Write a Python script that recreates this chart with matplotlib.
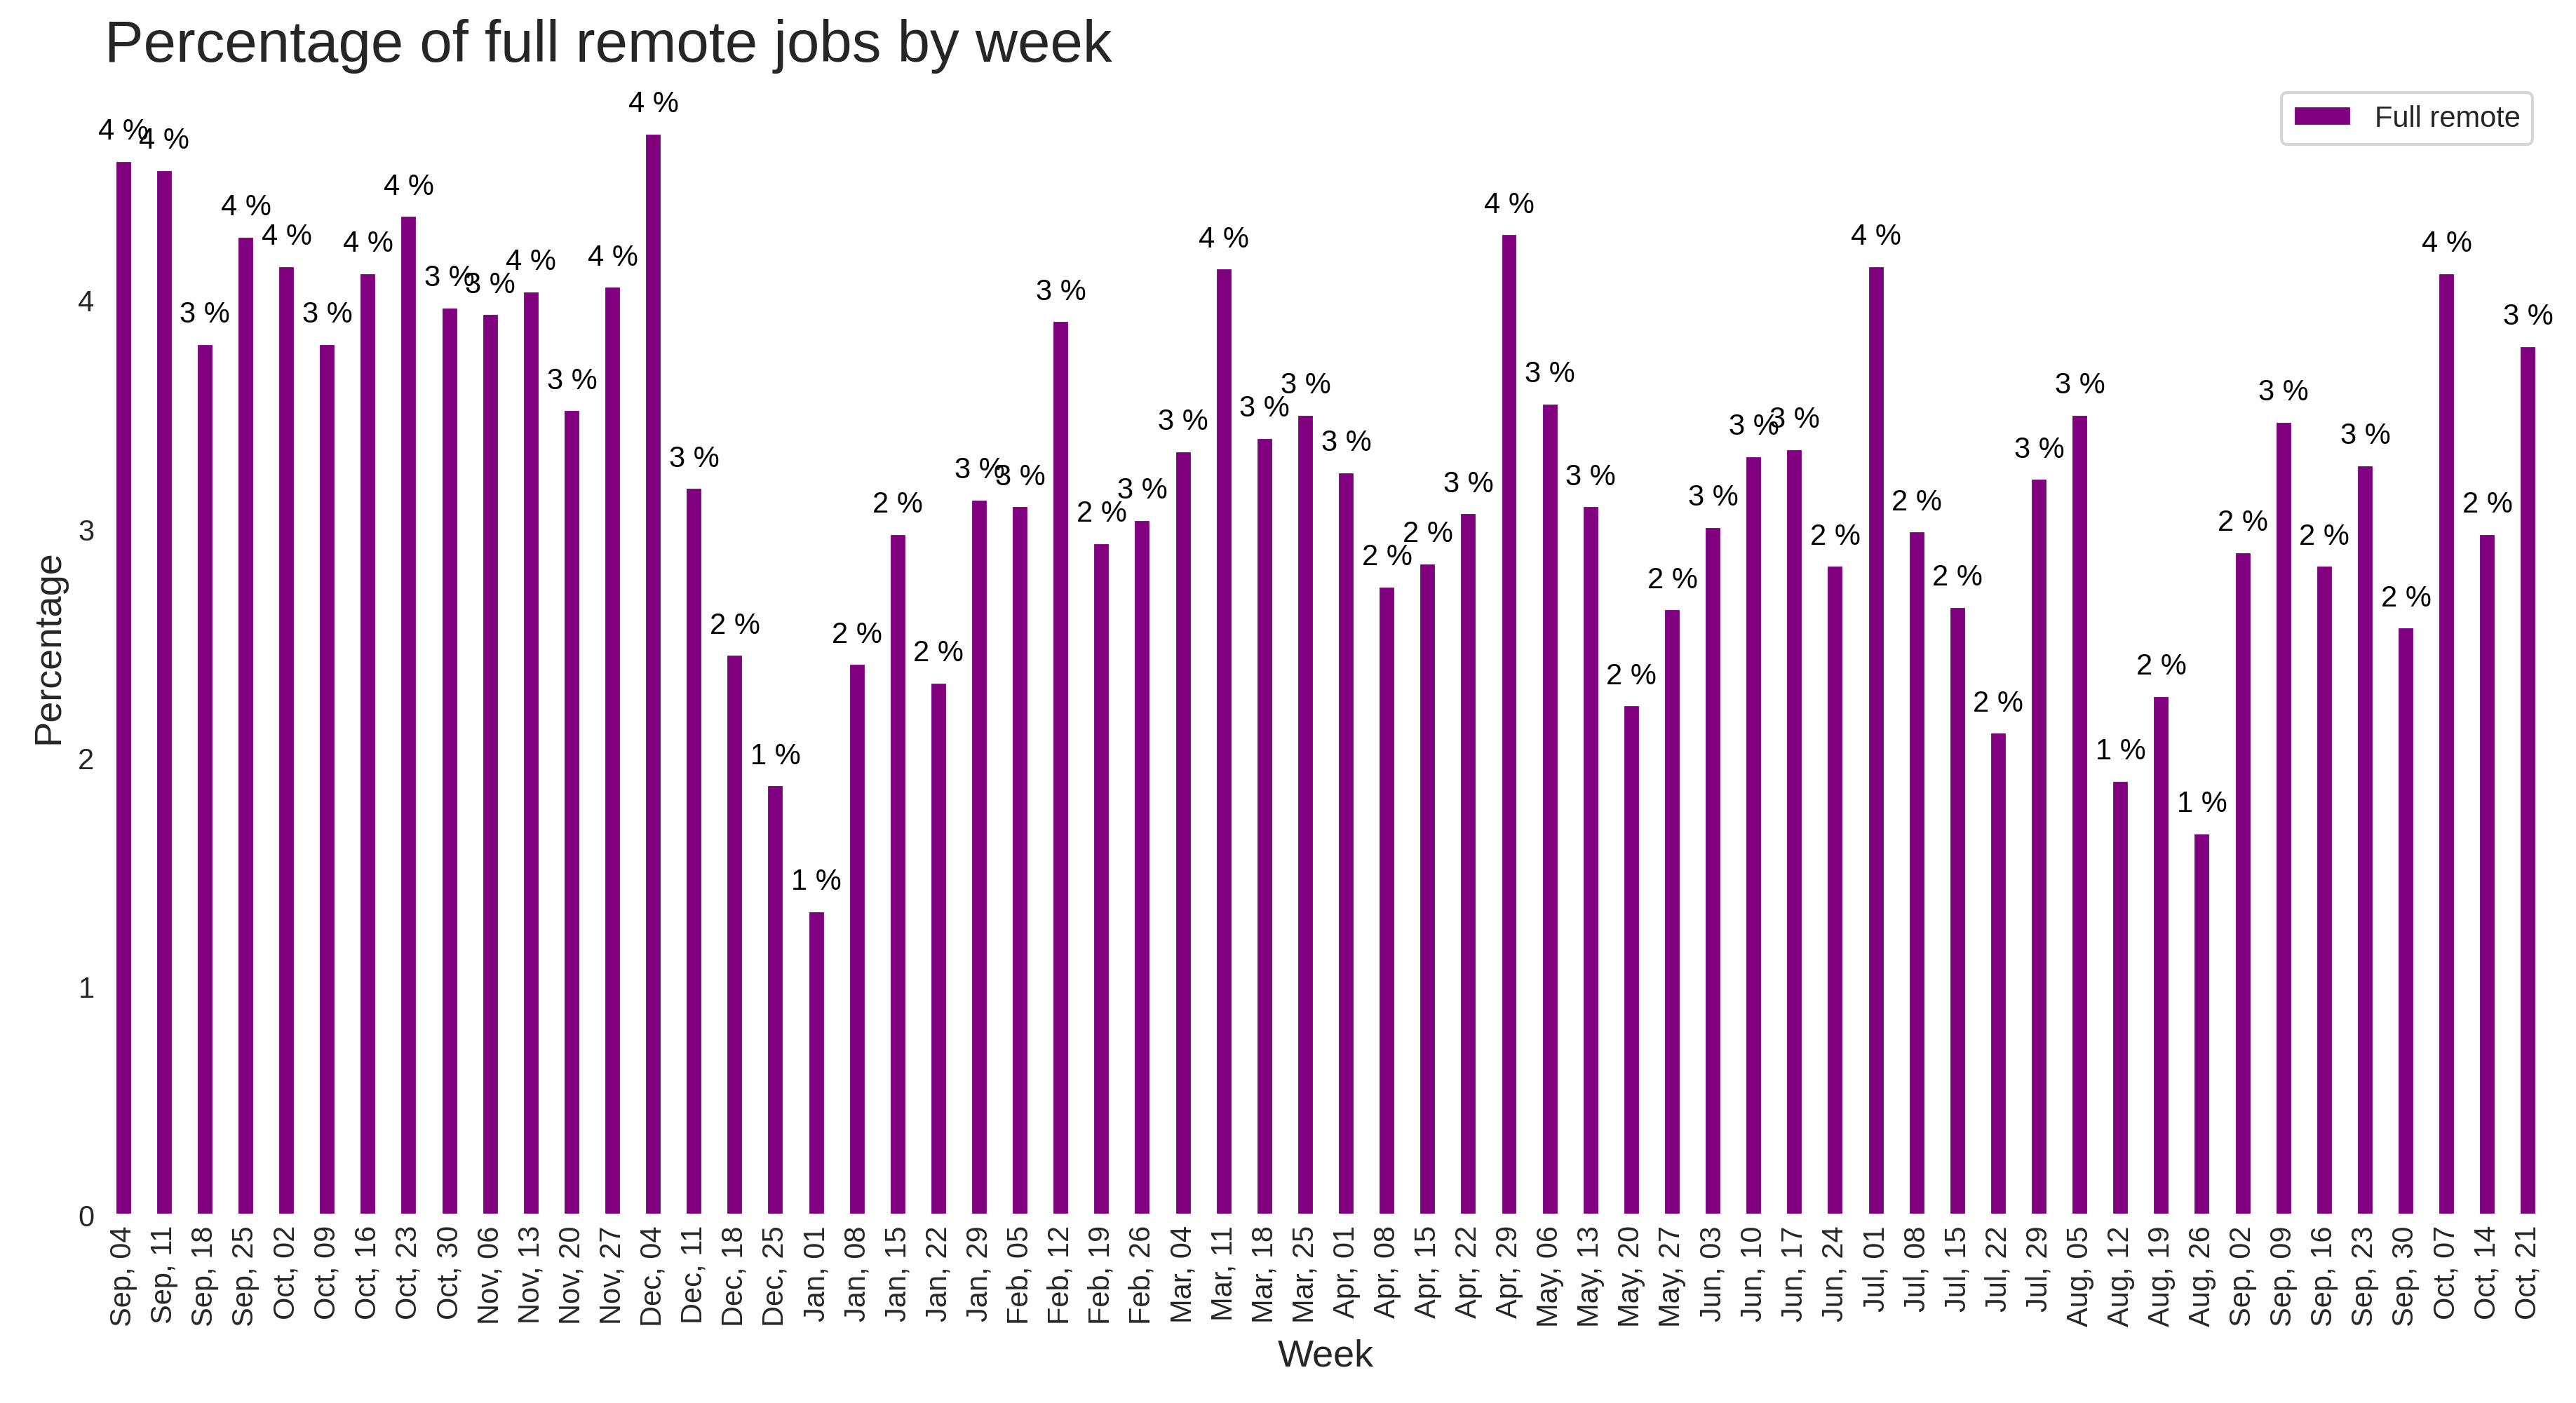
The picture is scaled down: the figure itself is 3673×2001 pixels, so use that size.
import numpy as np
import matplotlib
matplotlib.use('Agg')
import matplotlib.pyplot as plt
import seaborn as sns
import pandas as pd

weeks = ["Sep, 04", "Sep, 11", "Sep, 18", "Sep, 25", "Oct, 02", "Oct, 09", "Oct, 16", "Oct, 23", "Oct, 30",
         "Nov, 06", "Nov, 13", "Nov, 20", "Nov, 27", "Dec, 04", "Dec, 11", "Dec, 18", "Dec, 25",
         "Jan, 01", "Jan, 08", "Jan, 15", "Jan, 22", "Jan, 29", "Feb, 05", "Feb, 12", "Feb, 19", "Feb, 26",
         "Mar, 04", "Mar, 11", "Mar, 18", "Mar, 25", "Apr, 01", "Apr, 08", "Apr, 15", "Apr, 22", "Apr, 29",
         "May, 06", "May, 13", "May, 20", "May, 27", "Jun, 03", "Jun, 10", "Jun, 17", "Jun, 24",
         "Jul, 01", "Jul, 08", "Jul, 15", "Jul, 22", "Jul, 29", "Aug, 05", "Aug, 12", "Aug, 19", "Aug, 26",
         "Sep, 02", "Sep, 09", "Sep, 16", "Sep, 23", "Sep, 30", "Oct, 07", "Oct, 14", "Oct, 21"]

full_remote = [4.61, 4.57, 3.81, 4.28, 4.15, 3.81, 4.12, 4.37, 3.97,
               3.94, 4.04, 3.52, 4.06, 4.73, 3.18, 2.45, 1.88,
               1.33, 2.41, 2.98, 2.33, 3.13, 3.10, 3.91, 2.94, 3.04,
               3.34, 4.14, 3.40, 3.50, 3.25, 2.75, 2.85, 3.07, 4.29,
               3.55, 3.10, 2.23, 2.65, 3.01, 3.32, 3.35, 2.84,
               4.15, 2.99, 2.66, 2.11, 3.22, 3.50, 1.90, 2.27, 1.67,
               2.90, 3.47, 2.84, 3.28, 2.57, 4.12, 2.98, 3.80]

sns.set_style("white")
plt.rcParams['font.family'] = ['Liberation Sans', 'DejaVu Sans']

df = pd.DataFrame({"Full remote": full_remote}, index=weeks)

fig = plt.figure(figsize=(3673 / 300, 2002 / 300), dpi=300)
ax = fig.add_axes([0.0406, 0.1341, 0.9482, 0.8097])
df.plot(kind="bar", ax=ax, color="purple", width=0.43)

# labels above the bars, truncated to whole percent
for p in ax.patches:
    ax.annotate(f"{int(p.get_height())} %",
                (p.get_x() + p.get_width() / 2., p.get_height()),
                ha='center', va='center', xytext=(0, 10),
                textcoords='offset points', fontsize=10, color='black')

sns.despine(left=True, bottom=True)
ax.set_title("Percentage of full remote jobs by week", loc='left', fontsize=20, color='#262626')
ax.set_xlabel("Week", fontsize=13, color='#262626')
ax.set_ylabel("Percentage", fontsize=13, color='#262626')
ax.tick_params(axis='both', labelsize=10, colors='#262626', length=0)
ax.set_yticks([0, 1, 2, 3, 4])
ax.set_ylim(0, 4.97)
ax.legend(loc='upper right', fontsize=10)

fig.savefig("out.png", dpi=300)
